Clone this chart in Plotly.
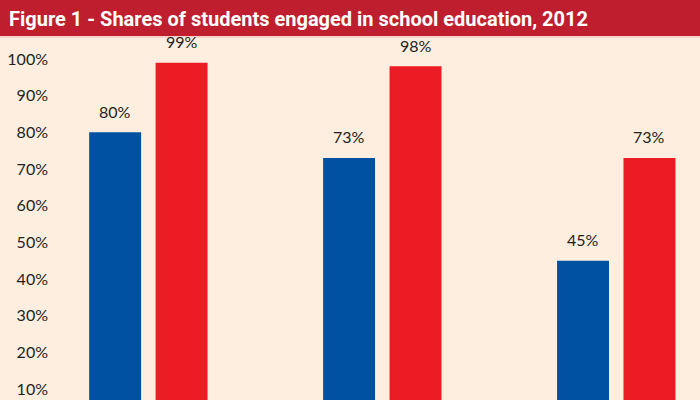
import plotly.graph_objects as go

# Data
categories = ["Primary", "Lower secondary", "Upper secondary"]
series_a = [80, 73, 45]   # blue bars
series_b = [99, 98, 73]   # red bars
y_ticks = [10, 20, 30, 40, 50, 60, 70, 80, 90, 100]
y_labels = [f"{t}%" for t in y_ticks]

BG = "#FDEEDF"
BLUE = "#0151A2"
RED = "#EC1C24"
BAR_RED = "#BE1E2D"
TXT = "#231F20"

x_idx = list(range(len(categories)))
bar_w = 0.222

fig = go.Figure()
fig.add_trace(go.Bar(x=x_idx, y=series_a, width=bar_w, offset=-0.254,
                     marker=dict(color=BLUE, line=dict(width=0)), name="A"))
fig.add_trace(go.Bar(x=x_idx, y=series_b, width=bar_w, offset=0.030,
                     marker=dict(color=RED, line=dict(width=0)), name="B"))

# value labels above the bars
for i, (a, b) in enumerate(zip(series_a, series_b)):
    for xv, v in ((i - 0.254 + bar_w / 2, a), (i + 0.030 + bar_w / 2, b)):
        fig.add_annotation(x=xv, y=v, text=f"{v}%", showarrow=False, yshift=21,
                           font=dict(family="Lato, Open Sans, sans-serif", size=16, color=TXT))

# red title band
top = 1 + 36 / 364
fig.add_shape(type="rect", xref="paper", yref="paper", x0=-55 / 645, x1=1, y0=1, y1=top,
              fillcolor=BAR_RED, line_width=0, layer="above")
fig.add_shape(type="rect", xref="paper", yref="paper", x0=-55 / 645, x1=1, y0=1 - 2 / 364, y1=1,
              fillcolor="#F6D3C8", line_width=0, layer="above")
fig.add_annotation(xref="paper", yref="paper", x=-55 / 645, y=1 + 17 / 364, xshift=7,
                   xanchor="left", yanchor="middle", showarrow=False,
                   text="<b>Figure 1 - Shares of students engaged in school education, 2012</b>",
                   font=dict(family="Arial Narrow, Liberation Sans Narrow, Roboto, sans-serif",
                             size=20, color="white"))

fig.update_xaxes(range=[-0.4, 2.357], showticklabels=False, showgrid=False,
                 zeroline=False, showline=False)
fig.update_yaxes(range=[7.0, 106.27], tickvals=y_ticks, ticktext=y_labels, showgrid=False,
                 zeroline=False, showline=False, ticklabelstandoff=6,
                 tickfont=dict(family="Lato, Open Sans, sans-serif", size=16, color=TXT))
fig.update_layout(width=700, height=400, margin=dict(l=55, r=0, t=36, b=0),
                  paper_bgcolor=BG, plot_bgcolor=BG, showlegend=False)
fig.write_html("out.html", config={"displayModeBar": False},
               post_script="document.body.style.margin='0';")
